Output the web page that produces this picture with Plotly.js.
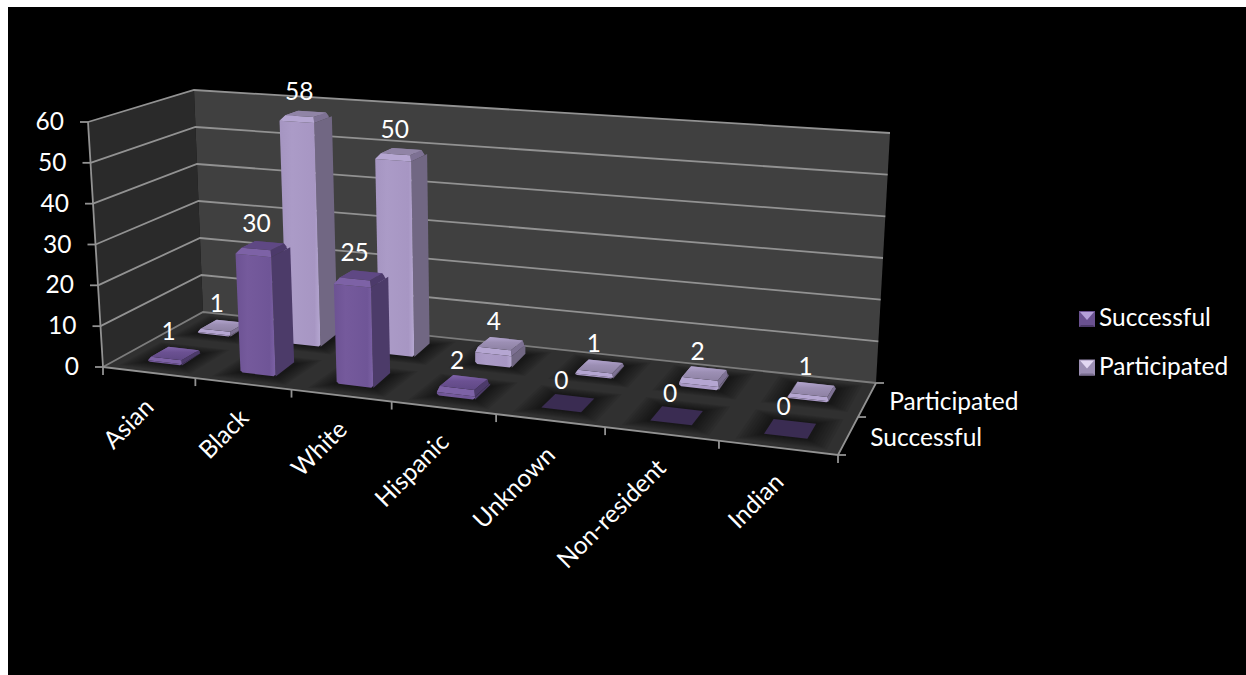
<!DOCTYPE html>
<html>
<head>
<meta charset="utf-8">
<script src="https://cdn.plot.ly/plotly-3.0.1.min.js"></script>
<style>html,body{margin:0;padding:0;background:#fff}#chart{width:1246px;height:675px}</style>
</head>
<body>
<div id="chart"></div>
<script>
// Participation and success counts by group, drawn as a perspective 3-D column chart.
const categories = ['Asian', 'Black', 'White', 'Hispanic', 'Unknown', 'Non-resident', 'Indian'];
const seriesNames = ['Successful', 'Participated'];
const successful = [1, 30, 25, 2, 0, 0, 0];
const participated = [1, 58, 50, 4, 1, 2, 1];
const valueTicks = [0, 10, 20, 30, 40, 50, 60];

const FONT = 'Lato, Carlito, Calibri, sans-serif';
const FONT_SIZE = 24.5;
const GRID = '#929292';
const AXIS_MAX = 60;

const palettes = [
  { top: '#5f4884', cf: '#7d62a6', cr: '#4c3a6a', cb: '#5a4478', cl: '#6a5290', side: '#4c3b69', flat: '#3a2c52',
    low: [[0, '#5f4884'], [0.6, '#6b5192'], [1, '#8064aa']],
    front: [[0, '#6c5293'], [0.3, '#755a9c'], [0.85, '#6f5597'], [1, '#7c62a5']], swatch: ['#6a5190', '#b49fd8', '#4c3a6a'] },
  { top: '#9084a6', cf: '#b5a6d2', cr: '#7d7193', cb: '#857a9a', cl: '#a294bf', side: '#716783', flat: '#6f6486',
    low: [[0, '#8d81a3'], [0.6, '#9c8fb4'], [1, '#b3a5cf']],
    front: [[0, '#a595c1'], [0.3, '#ab9bc7'], [0.85, '#a796c3'], [1, '#b6a8d2']], swatch: ['#9c8fb4', '#e2d8f2', '#786d8e'] }
];

// Homography taking the unit square onto a pixel quadrilateral.
function squareToQuad(q) {
  const [p0, p1, p2, p3] = q;
  const dx1 = p1[0] - p2[0], dx2 = p3[0] - p2[0], sx = p0[0] - p1[0] + p2[0] - p3[0];
  const dy1 = p1[1] - p2[1], dy2 = p3[1] - p2[1], sy = p0[1] - p1[1] + p2[1] - p3[1];
  const det = dx1 * dy2 - dx2 * dy1;
  const g = (sx * dy2 - dx2 * sy) / det, h = (dx1 * sy - sx * dy1) / det;
  const a = p1[0] - p0[0] + g * p1[0], b = p3[0] - p0[0] + h * p3[0], c = p0[0];
  const d = p1[1] - p0[1] + g * p1[1], e = p3[1] - p0[1] + h * p3[1], f = p0[1];
  return (u, v) => {
    const w = g * u + h * v + 1;
    return [(a * u + b * v + c) / w, (d * u + e * v + f) / w];
  };
}

const floorMap = squareToQuad([[103, 367], [838, 455], [876, 383], [203, 312]]);
const ceilMap = squareToQuad([[88, 122], [853, 176], [890, 133], [194, 90]]);
const nCat = categories.length, nSer = seriesNames.length;

// Chart space (category, series, value) to page pixels.
function pt(u, v, z) {
  const a = floorMap(u / nCat, v / nSer), b = ceilMap(u / nCat, v / nSer), t = z / AXIS_MAX;
  return [a[0] + (b[0] - a[0]) * t, a[1] + (b[1] - a[1]) * t];
}

const traces = [];
function poly(points, color, extra) {
  const xs = points.map(p => p[0]), ys = points.map(p => p[1]);
  xs.push(xs[0]); ys.push(ys[0]);
  traces.push(Object.assign({
    x: xs, y: ys, mode: 'lines', fill: 'toself', fillcolor: color,
    line: { width: 0, color: color }, hoverinfo: 'skip', showlegend: false
  }, extra || {}));
}
function line(points, color, width) {
  traces.push({ x: points.map(p => p[0]), y: points.map(p => p[1]), mode: 'lines',
    line: { color: color || GRID, width: width || 1.8 }, hoverinfo: 'skip', showlegend: false });
}

// Walls and floor
poly([pt(0, 0, 0), pt(0, 2, 0), pt(0, 2, AXIS_MAX), pt(0, 0, AXIS_MAX)], '#2a2a2a');
poly([pt(0, 2, 0), pt(nCat, 2, 0), pt(nCat, 2, AXIS_MAX), pt(0, 2, AXIS_MAX)], '#404040');
poly([pt(0, 0, 0), pt(nCat, 0, 0), pt(nCat, 2, 0), pt(0, 2, 0)], '#303030');

// Gridlines run along the side wall and then the back wall
valueTicks.forEach(z => line([pt(0, 0, z), pt(0, 2, z), pt(nCat, 2, z)], z === 0 ? '#7c7c7c' : GRID));

// Axis lines with their tick marks
line([pt(0, 0, 0), pt(0, 0, AXIS_MAX)]);
line([pt(0, 0, 0), pt(nCat, 0, 0), pt(nCat, 2, 0)]);
valueTicks.forEach(z => { const p = pt(0, 0, z); line([[p[0] - 8, p[1]], p]); });
categories.concat(['']).forEach((_, i) => { const p = pt(i, 0, 0); line([p, [p[0], p[1] + 8]]); });
[0, 1, 2].forEach(s => { const p = pt(nCat, s, 0); line([p, [p[0] + 8, p[1]]]); });

const seriesValues = [successful, participated];
const BAR_U0 = 0.32, BAR_U1 = 0.69, BAR_V0 = 0.3, BAR_V1 = 0.7;

// Soft contact shadows on the floor, below every column
seriesValues.forEach((vals, s) => vals.forEach((_, i) => {
  [0.2, 0.175, 0.15, 0.125, 0.1, 0.075, 0.05, 0.025].forEach(e => {
    poly([pt(i + BAR_U0 - e, s + BAR_V0 - e, 0), pt(i + BAR_U1 + e, s + BAR_V0 - e, 0),
          pt(i + BAR_U1 + e, s + BAR_V1 + e, 0), pt(i + BAR_U0 - e, s + BAR_V1 + e, 0)], 'rgba(0,0,0,0.075)');
  });
}));

// A column with a chamfered cap; back row first so the front row paints over it.
function column(i, s, h) {
  const c = palettes[s];
  const u0 = i + BAR_U0, u1 = i + BAR_U1, v0 = s + BAR_V0, v1 = s + BAR_V1;
  if (h === 0) {
    poly([pt(u0, v0, 0), pt(u1, v0, 0), pt(u1, v1, 0), pt(u0, v1, 0)], palettes[0].flat);
    return;
  }
  const short = h < 10;
  const dz = Math.min(1.2, h * 0.7), du = short ? 0.018 : 0.035, dv = short ? 0.03 : 0.06, zc = h - dz;
  const foot = Math.min(0.5, zc * 0.5);
  poly([pt(u1, v0, 0), pt(u1, v1, foot), pt(u1, v1, zc), pt(u1, v0, zc)], c.side);
  poly([pt(u0, v0, foot), pt(u0 + 0.02, v0, 0), pt(u1 - 0.02, v0, 0), pt(u1, v0, foot), pt(u1, v0, zc), pt(u0, v0, zc)], c.front[1][1], {
    fillgradient: { type: 'horizontal', colorscale: c.front }
  });
  const tl = pt(u0 + du, v0 + dv, h), tr = pt(u1 - du, v0 + dv, h), br = pt(u1 - du, v1 - dv, h), bl = pt(u0 + du, v1 - dv, h);
  poly([pt(u0 + du, v1, zc), pt(u1 - du, v1, zc), br, bl], c.cb);
  poly([pt(u0, v0, zc), tl, bl, pt(u0, v1 - dv, zc)], c.cl);
  poly([pt(u1, v0, zc), pt(u1, v1 - dv, zc), br, tr], c.cr);
  poly([pt(u0, v0, zc), pt(u1, v0, zc), tr, tl], c.cf);
  if (short) {
    poly([tl, tr, br, bl], c.top, { fillgradient: { type: 'vertical', colorscale: c.low } });
  } else {
    poly([tl, tr, br, bl], c.top);
  }
}
[1, 0].forEach(s => seriesValues[s].forEach((h, i) => column(i, s, h)));

// Value labels sit above the centre of each column's cap
const lx = [], ly = [], lt = [];
seriesValues.forEach((vals, s) => vals.forEach((h, i) => {
  const p = pt(i + 0.5, s + 0.5, h);
  lx.push(p[0] - 6); ly.push(p[1] - 20); lt.push(String(h));
}));
traces.push({ x: lx, y: ly, text: lt, mode: 'text', textposition: 'middle center',
  textfont: { family: FONT, size: FONT_SIZE, color: '#fff' }, hoverinfo: 'skip', showlegend: false });

// Value axis labels
traces.push({
  x: valueTicks.map(z => pt(0, 0, z)[0] - 24), y: valueTicks.map(z => pt(0, 0, z)[1] + 2),
  text: valueTicks.map(String), mode: 'text', textposition: 'middle left',
  textfont: { family: FONT, size: FONT_SIZE, color: '#fff' }, hoverinfo: 'skip', showlegend: false
});

// Series labels beside the right edge of the floor
traces.push({
  x: seriesNames.map((_, s) => pt(nCat, s + 0.5, 0)[0] + 22), y: seriesNames.map((_, s) => pt(nCat, s + 0.5, 0)[1] + 4),
  text: seriesNames, mode: 'text', textposition: 'middle right',
  textfont: { family: FONT, size: FONT_SIZE, color: '#fff' }, hoverinfo: 'skip', showlegend: false
});

// Legend: bevelled swatch plus name
seriesNames.forEach((name, s) => {
  const cx = 1087, cy = 319 + s * 48.5, r = 8, sw = palettes[s].swatch;
  poly([[cx - r, cy - r], [cx + r, cy - r], [cx + r, cy + r], [cx - r, cy + r]], sw[0]);
  poly([[cx - r, cy + r], [cx + r, cy + r], [cx + r - 2, cy + r - 2], [cx - r + 2, cy + r - 2]], sw[2]);
  poly([[cx - r + 1, cy - r + 1], [cx + r - 1, cy - r + 1], [cx, cy + 1]], sw[1]);
});
traces.push({
  x: seriesNames.map(() => 1099), y: seriesNames.map((_, s) => 320 + s * 49),
  text: seriesNames, mode: 'text', textposition: 'middle right',
  textfont: { family: FONT, size: FONT_SIZE, color: '#fff' }, hoverinfo: 'skip', showlegend: false
});

// Category labels are slanted, ending just below the middle of each floor tick gap
const measure = document.createElement('canvas').getContext('2d');
measure.font = FONT_SIZE + 'px Lato';
const annotations = categories.map((name, i) => {
  const end = pt(i + 0.5, 0, 0), w = measure.measureText(name).width;
  const k = Math.SQRT1_2;
  return {
    x: end[0] - (w / 2) * k, y: end[1] + 29 + (w / 2) * k, xref: 'x', yref: 'y',
    text: name, textangle: -45, showarrow: false, xanchor: 'center', yanchor: 'middle',
    font: { family: FONT, size: FONT_SIZE, color: '#fff' }
  };
});

const layout = {
  width: 1246, height: 675, margin: { l: 0, r: 0, t: 0, b: 0 },
  paper_bgcolor: '#fff', plot_bgcolor: '#fff', showlegend: false,
  xaxis: { range: [0, 1246], visible: false, fixedrange: true },
  yaxis: { range: [675, 0], visible: false, fixedrange: true },
  shapes: [{ type: 'rect', layer: 'below', xref: 'x', yref: 'y', x0: 8, y0: 7, x1: 1246, y1: 675, fillcolor: '#000', line: { width: 0 } }],
  annotations: annotations
};
Plotly.newPlot('chart', traces, layout, { displayModeBar: false, staticPlot: true });
</script>
</body>
</html>
